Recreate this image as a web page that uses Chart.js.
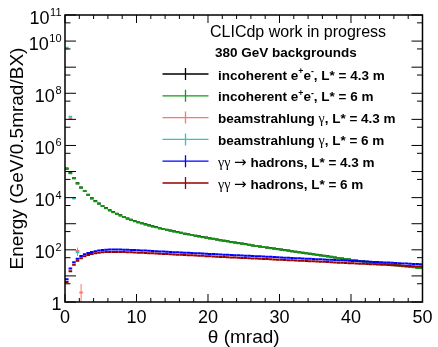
<!DOCTYPE html>
<html lang="en">
<head>
<meta charset="UTF-8">
<title>380 GeV backgrounds - energy vs theta</title>
<script src="https://cdn.jsdelivr.net/npm/chart.js"></script>
<style>
  html, body { margin: 0; padding: 0; background: #fff; }
  .chart-box { width: 438px; height: 347px; }
</style>
</head>
<body>
<div class="chart-box"><canvas id="bgChart"></canvas></div>
<script>
// 100 bins of 0.5 mrad from 0 to 50 mrad
const binWidth = 0.5;

const incoh43 = [
  1.32e5, 8.9e4, 5.5e4, 3.55e4, 2.45e4, 1.78e4, 1.29e4, 9.5e3, 7.4e3, 5.9e3,
  4.8e3, 4.0e3, 3.3e3, 2.8e3, 2.4e3, 2.1e3, 1.82e3, 1.58e3, 1.41e3, 1.26e3,
  1150, 1050, 955, 871, 794, 741, 676, 631, 589, 550,
  513, 479, 447, 417, 398, 372, 347, 331, 309, 295,
  275, 263, 251, 234, 224, 214, 200, 191, 182, 174,
  166, 155, 148, 141, 135, 129, 123, 117, 112, 107,
  102, 97.7, 93.3, 89.1, 85.1, 81.3, 77.6, 74.1, 70.8, 67.6,
  64.6, 61.7, 58.9, 56.2, 53.7, 51.3, 49.0, 46.8, 44.7, 42.7,
  40.7, 38.9, 37.2, 36.3, 34.7, 33.1, 32.4, 30.9, 29.5, 28.8,
  27.5, 26.9, 25.7, 25.1, 24.0, 23.4, 22.4, 21.9, 20.9, 20.4
];
const incoh6 = [
  1.25e5, 8.6e4, 5.6e4, 3.45e4, 2.4e4, 1.8e4, 1.26e4, 9.3e3, 7.3e3, 5.8e3,
  4.75e3, 3.9e3, 3.25e3, 2.75e3, 2.35e3, 2.05e3, 1.8e3, 1.55e3, 1.39e3, 1.24e3,
  1130, 1035, 940, 860, 785, 730, 668, 622, 580, 543,
  506, 472, 441, 412, 392, 367, 343, 326, 305, 291,
  271, 259, 247, 231, 221, 211, 197, 189, 180, 172,
  164, 153, 146, 139, 133, 127, 121, 116, 111, 106,
  101, 96.5, 92.2, 88.0, 84.2, 80.4, 76.8, 73.3, 70.0, 66.9,
  63.9, 61.0, 58.3, 55.6, 53.1, 50.8, 48.5, 46.3, 44.3, 42.3,
  40.3, 38.5, 36.8, 35.9, 34.3, 32.8, 32.0, 30.6, 29.2, 28.5,
  27.2, 26.6, 25.4, 24.8, 23.7, 23.1, 22.1, 21.6, 20.6, 20.1
];
const hadr43 = [
  7.4, 19.1, 33.1, 45.7, 57.5, 67.6, 75.9, 83.2, 89.1, 93.3,
  97.7, 100, 102, 102, 102, 102, 100, 100, 97.7, 97.7,
  95.5, 94.4, 93.3, 91.2, 90.2, 89.1, 87.1, 86.1, 85.1, 83.2,
  81.3, 80.4, 79.4, 77.6, 76.7, 75.9, 74.1, 73.3, 72.4, 70.8,
  69.2, 68.4, 67.6, 66.1, 65.3, 64.6, 63.1, 62.4, 61.7, 60.3,
  59.6, 58.9, 57.5, 56.9, 56.2, 55.0, 54.3, 53.7, 52.5, 51.9,
  51.3, 50.1, 49.5, 49.0, 47.9, 47.3, 46.8, 45.7, 45.2, 44.7,
  43.7, 43.2, 42.7, 41.7, 41.2, 40.7, 39.8, 39.4, 38.9, 38.0,
  37.6, 37.2, 36.3, 35.9, 35.5, 34.7, 34.3, 33.9, 33.1, 32.7,
  32.4, 31.6, 31.3, 30.9, 30.2, 29.9, 29.5, 28.8, 28.5, 28.2
];
const hadr6 = [
  5.8, 15.1, 26.9, 38.0, 47.9, 56.2, 63.1, 69.2, 74.1, 77.6,
  80.4, 82.2, 83.2, 83.2, 83.2, 83.2, 82.2, 81.3, 80.4, 79.4,
  77.4, 76.5, 75.6, 73.9, 73.1, 72.2, 70.6, 69.7, 68.9, 67.4,
  65.9, 65.1, 64.3, 62.9, 62.1, 61.5, 60.0, 59.4, 58.6, 57.3,
  56.1, 55.4, 54.8, 53.5, 52.9, 52.3, 51.1, 50.5, 50.0, 48.8,
  48.3, 47.7, 46.6, 46.1, 45.5, 44.6, 44.0, 43.5, 42.5, 42.0,
  41.6, 40.6, 40.1, 39.7, 38.8, 38.3, 37.9, 37.0, 36.6, 36.2,
  35.4, 35.0, 34.6, 33.8, 33.4, 33.0, 32.2, 31.9, 31.5, 30.8,
  30.5, 30.1, 29.4, 29.1, 28.8, 28.1, 27.8, 27.5, 26.8, 26.5,
  26.2, 25.6, 25.4, 25.0, 24.5, 24.2, 23.9, 23.3, 23.1, 22.8
];

// beamstrahlung photons only fill a few bins near the axis
const beam43Bins = [0, 1, 3, 4];
const beam43Vals = [5.2e9, 1.05e7, 90, 2.3];
const beam43Errs = [0, 0, 32, 2.6];
const beam6Bins = [0, 1, 2, 3];
const beam6Vals = [5.5e9, 1.25e7, 9.3e3, 80];
const beam6Errs = [0, 0, 0, 20];

const seriesLabels = [
  'incoherent e^{+}e^{-}, L* = 4.3 m',
  'incoherent e^{+}e^{-}, L* = 6 m',
  'beamstrahlung γ, L* = 4.3 m',
  'beamstrahlung γ, L* = 6 m',
  'γγ → hadrons, L* = 4.3 m',
  'γγ → hadrons, L* = 6 m'
];
const seriesColors = ['#000000', '#109a10', '#ff7373', '#2ec4c4', '#0000ff', '#990000'];

const headerTitle = 'CLICdp work in progress';
const headerSub = '380 GeV backgrounds';
const xTitle = 'θ (mrad)';
const yTitle = 'Energy (GeV/0.5mrad/BX)';
const xTickLabels = [0, 10, 20, 30, 40, 50];
const yLabelExps = [0, 2, 4, 6, 8, 10, 11];

const FONT = "'Liberation Sans', Arial, sans-serif";

function fullBins(vals) {
  return vals.map((v, i) => ({ x: (i + 0.5) * binWidth, y: v }));
}
function someBins(bins, vals) {
  return bins.map((b, i) => ({ x: (b + 0.5) * binWidth, y: vals[i] }));
}

const seriesData = [
  fullBins(incoh43), fullBins(incoh6),
  someBins(beam43Bins, beam43Vals), someBins(beam6Bins, beam6Vals),
  fullBins(hadr43), fullBins(hadr6)
];
const seriesErrs = [null, null, beam43Errs, beam6Errs, null, null];

const datasets = seriesData.map((d, i) => ({
  label: seriesLabels[i],
  data: d,
  errors: seriesErrs[i],
  showLine: false,
  pointStyle: 'line',
  pointRadius: 1.8,
  pointHoverRadius: 1.8,
  pointBorderWidth: 2,
  borderWidth: 2,
  borderColor: seriesColors[i],
  backgroundColor: seriesColors[i],
  order: seriesData.length - i  // ROOT draws later histograms on top
}));

// little ROOT-style text renderer: ^{..} superscripts, symbol glyphs in another font
function drawRich(ctx, str, x, y, size) {
  const re = /\^\{([^}]*)\}|[γ→]|[^γ→^]+/g;
  let m;
  while ((m = re.exec(str)) !== null) {
    let t = m[0], dy = 0;
    if (m[1] !== undefined) {
      t = m[1];
      ctx.font = 'bold ' + (size * 0.65) + 'px ' + FONT;
      dy = -size * 0.38;
    } else if (t === 'γ') {
      ctx.font = (size + 0.5) + "px 'Liberation Serif', serif";
    } else if (t === '→') {
      ctx.font = (size + 1.5) + "px 'DejaVu Sans', sans-serif";
    } else {
      ctx.font = 'bold ' + size + 'px ' + FONT;
    }
    ctx.fillText(t, x, y + dy);
    x += ctx.measureText(t).width;
  }
}

const errorBars = {
  id: 'errorBars',
  afterDatasetsDraw(chart) {
    const { ctx, chartArea: a, scales: { x, y } } = chart;
    ctx.save();
    ctx.beginPath();
    ctx.rect(a.left, a.top, a.width, a.height);
    ctx.clip();
    chart.data.datasets.forEach(ds => {
      if (!ds.errors) return;
      ds.data.forEach((p, i) => {
        const e = ds.errors[i];
        if (!e) return;
        const px = x.getPixelForValue(p.x);
        const lo = p.y - e > 0 ? y.getPixelForValue(p.y - e) : a.bottom;
        const hi = y.getPixelForValue(p.y + e);
        ctx.strokeStyle = ds.borderColor;
        ctx.lineWidth = 1;
        ctx.beginPath();
        ctx.moveTo(px, lo);
        ctx.lineTo(px, hi);
        ctx.stroke();
      });
    });
    ctx.restore();
  }
};

const rootFrame = {
  id: 'rootFrame',
  afterDraw(chart) {
    const { ctx, chartArea: a, scales: { x, y } } = chart;
    ctx.save();
    ctx.strokeStyle = '#000';
    ctx.lineWidth = 1;

    // x ticks, bottom and top, pointing inward
    for (let v = 0; v <= 50; v += 2) {
      const px = x.getPixelForValue(v);
      const len = v % 10 === 0 ? 8 : 4;
      ctx.beginPath();
      ctx.moveTo(px, a.bottom); ctx.lineTo(px, a.bottom - len);
      ctx.moveTo(px, a.top); ctx.lineTo(px, a.top + len);
      ctx.stroke();
    }
    // y ticks: decades long, 5x10^n short, left and right
    for (let n = 0; n <= 11; n++) {
      [[Math.pow(10, n), 11], [5 * Math.pow(10, n), 5.5]].forEach(([v, len]) => {
        if (v > 1e11) return;
        const py = y.getPixelForValue(v);
        ctx.beginPath();
        ctx.moveTo(a.left, py); ctx.lineTo(a.left + len, py);
        ctx.moveTo(a.right, py); ctx.lineTo(a.right - len, py);
        ctx.stroke();
      });
    }
    ctx.lineWidth = 1.5;
    ctx.strokeRect(a.left, a.top, a.right - a.left, a.bottom - a.top);

    // y labels 10^n
    ctx.fillStyle = '#000';
    ctx.textAlign = 'right';
    ctx.textBaseline = 'alphabetic';
    yLabelExps.forEach(n => {
      const py = y.getPixelForValue(Math.pow(10, n));
      const right = a.left - 3.5;
      if (n === 0) {
        ctx.font = '18px ' + FONT;
        ctx.fillText('1', right, py + 8);
        return;
      }
      ctx.font = '11px ' + FONT;
      const e = String(n);
      ctx.fillText(e, right, py + 1);
      const ew = ctx.measureText(e).width;
      ctx.font = '18px ' + FONT;
      ctx.fillText('10', right - ew - 0.5, py + 8.5);
    });

    // legend
    ctx.textAlign = 'left';
    ctx.font = '16px ' + FONT;
    ctx.fillText(headerTitle, 210, 36.5);
    ctx.font = 'bold 13.5px ' + FONT;
    ctx.fillText(headerSub, 215, 57);
    const rowY = [74, 95.8, 117.6, 139.4, 161.2, 183];
    chart.data.datasets.forEach((ds, i) => {
      const yy = rowY[i];
      ctx.strokeStyle = ds.borderColor;
      ctx.lineWidth = 1.3;
      ctx.beginPath();
      ctx.moveTo(162.5, yy); ctx.lineTo(208.5, yy);
      ctx.moveTo(185.5, yy - 6); ctx.lineTo(185.5, yy + 6);
      ctx.stroke();
      ctx.fillStyle = '#000';
      drawRich(ctx, ds.label, 218, yy + 5.5, 13.5);
    });
    ctx.restore();
  }
};

new Chart(document.getElementById('bgChart'), {
  type: 'scatter',
  data: { datasets: datasets },
  options: {
    responsive: true,
    maintainAspectRatio: false,
    animation: false,
    events: [],
    layout: { padding: { top: 15, right: 12, left: 0, bottom: 0 } },
    plugins: {
      legend: { display: false },
      tooltip: { enabled: false }
    },
    scales: {
      x: {
        type: 'linear',
        min: 0,
        max: 50,
        afterFit(scale) { scale.height = 45; },
        afterBuildTicks(scale) { scale.ticks = xTickLabels.map(v => ({ value: v })); },
        grid: { display: false, drawTicks: false },
        border: { display: false },
        ticks: {
          color: '#000',
          padding: 5.5,
          maxRotation: 0,
          autoSkip: false,
          font: { family: FONT, size: 18 }
        },
        title: {
          display: true,
          text: xTitle,
          color: '#000',
          padding: { top: 0, bottom: 0 },
          font: { family: FONT, size: 19, lineHeight: 1 }
        }
      },
      y: {
        type: 'logarithmic',
        min: 1,
        max: 1e11,
        afterFit(scale) { scale.width = 65; },
        grid: { display: false, drawTicks: false },
        border: { display: false },
        ticks: { display: false },
        title: {
          display: true,
          text: yTitle,
          color: '#000',
          padding: { top: 8.5, bottom: 0 },
          font: { family: FONT, size: 19, lineHeight: 1 }
        }
      }
    }
  },
  plugins: [errorBars, rootFrame]
});
</script>
</body>
</html>
